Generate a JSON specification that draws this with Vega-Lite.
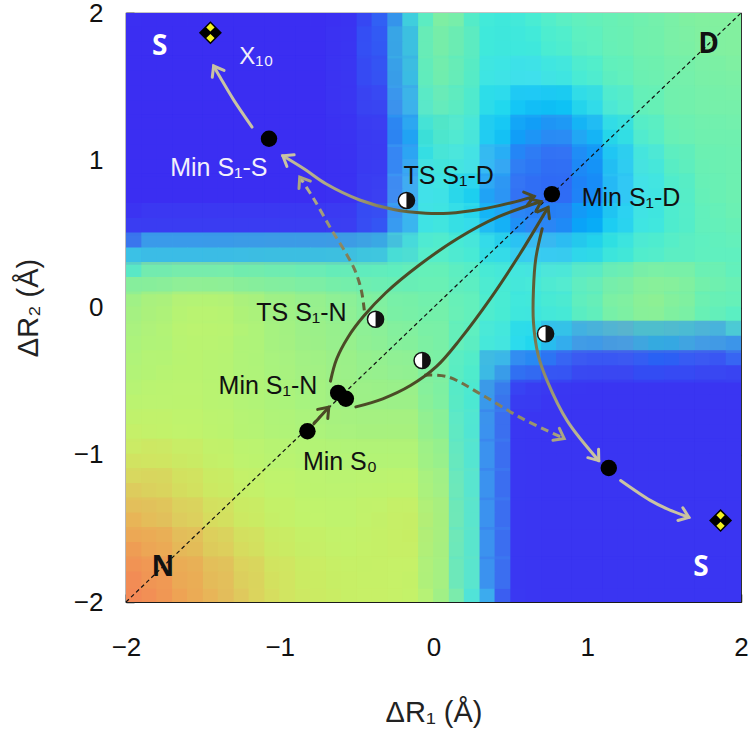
{
"$schema": "https://vega.github.io/schema/vega-lite/v6.json",
"width": 615,
"height": 589,
"autosize": "none",
"padding": {"left": 126, "top": 13, "right": 15, "bottom": 138},
"background": "white",
"config": {"view": {"stroke": "#1a1a1a", "strokeWidth": 1.2}, "axis": {"grid": false, "domain": false}},
"datasets": {
"surface": [
{"x":-1.9,"y":1.9,"v":0},{"x":-1.7,"y":1.9,"v":0},{"x":-1.5,"y":1.9,"v":0},{"x":-1.3,"y":1.9,"v":0},{"x":-1.1,"y":1.9,"v":0},{"x":-0.9,"y":1.9,"v":0},{"x":-0.7,"y":1.9,"v":0},{"x":-0.5,"y":1.9,"v":0.02},{"x":-0.3,"y":1.9,"v":0.15},{"x":-0.1,"y":1.9,"v":0.4},{"x":0.1,"y":1.9,"v":0.58},{"x":0.3,"y":1.9,"v":0.4},{"x":0.5,"y":1.9,"v":0.38},{"x":0.7,"y":1.9,"v":0.42},{"x":0.9,"y":1.9,"v":0.46},{"x":1.1,"y":1.9,"v":0.48},{"x":1.3,"y":1.9,"v":0.5},{"x":1.5,"y":1.9,"v":0.52},{"x":1.7,"y":1.9,"v":0.55},{"x":1.9,"y":1.9,"v":0.55},
{"x":-1.9,"y":1.7,"v":0},{"x":-1.7,"y":1.7,"v":0},{"x":-1.5,"y":1.7,"v":0},{"x":-1.3,"y":1.7,"v":0},{"x":-1.1,"y":1.7,"v":0},{"x":-0.9,"y":1.7,"v":0},{"x":-0.7,"y":1.7,"v":0},{"x":-0.5,"y":1.7,"v":0.03},{"x":-0.3,"y":1.7,"v":0.14},{"x":-0.1,"y":1.7,"v":0.4},{"x":0.1,"y":1.7,"v":0.58},{"x":0.3,"y":1.7,"v":0.4},{"x":0.5,"y":1.7,"v":0.36},{"x":0.7,"y":1.7,"v":0.38},{"x":0.9,"y":1.7,"v":0.43},{"x":1.1,"y":1.7,"v":0.47},{"x":1.3,"y":1.7,"v":0.5},{"x":1.5,"y":1.7,"v":0.52},{"x":1.7,"y":1.7,"v":0.54},{"x":1.9,"y":1.7,"v":0.55},
{"x":-1.9,"y":1.5,"v":0},{"x":-1.7,"y":1.5,"v":0},{"x":-1.5,"y":1.5,"v":0},{"x":-1.3,"y":1.5,"v":0},{"x":-1.1,"y":1.5,"v":0},{"x":-0.9,"y":1.5,"v":0},{"x":-0.7,"y":1.5,"v":0},{"x":-0.5,"y":1.5,"v":0.03},{"x":-0.3,"y":1.5,"v":0.12},{"x":-0.1,"y":1.5,"v":0.38},{"x":0.1,"y":1.5,"v":0.56},{"x":0.3,"y":1.5,"v":0.38},{"x":0.5,"y":1.5,"v":0.32},{"x":0.7,"y":1.5,"v":0.31},{"x":0.9,"y":1.5,"v":0.36},{"x":1.1,"y":1.5,"v":0.43},{"x":1.3,"y":1.5,"v":0.48},{"x":1.5,"y":1.5,"v":0.5},{"x":1.7,"y":1.5,"v":0.52},{"x":1.9,"y":1.5,"v":0.53},
{"x":-1.9,"y":1.3,"v":0},{"x":-1.7,"y":1.3,"v":0},{"x":-1.5,"y":1.3,"v":0},{"x":-1.3,"y":1.3,"v":0},{"x":-1.1,"y":1.3,"v":0},{"x":-0.9,"y":1.3,"v":0},{"x":-0.7,"y":1.3,"v":0},{"x":-0.5,"y":1.3,"v":0.03},{"x":-0.3,"y":1.3,"v":0.08},{"x":-0.1,"y":1.3,"v":0.33},{"x":0.1,"y":1.3,"v":0.52},{"x":0.3,"y":1.3,"v":0.36},{"x":0.5,"y":1.3,"v":0.28},{"x":0.7,"y":1.3,"v":0.24},{"x":0.9,"y":1.3,"v":0.26},{"x":1.1,"y":1.3,"v":0.33},{"x":1.3,"y":1.3,"v":0.44},{"x":1.5,"y":1.3,"v":0.5},{"x":1.7,"y":1.3,"v":0.52},{"x":1.9,"y":1.3,"v":0.52},
{"x":-1.9,"y":1.1,"v":0},{"x":-1.7,"y":1.1,"v":0},{"x":-1.5,"y":1.1,"v":0},{"x":-1.3,"y":1.1,"v":0},{"x":-1.1,"y":1.1,"v":0},{"x":-0.9,"y":1.1,"v":0},{"x":-0.7,"y":1.1,"v":0},{"x":-0.5,"y":1.1,"v":0.02},{"x":-0.3,"y":1.1,"v":0.05},{"x":-0.1,"y":1.1,"v":0.28},{"x":0.1,"y":1.1,"v":0.46},{"x":0.3,"y":1.1,"v":0.33},{"x":0.5,"y":1.1,"v":0.24},{"x":0.7,"y":1.1,"v":0.18},{"x":0.9,"y":1.1,"v":0.19},{"x":1.1,"y":1.1,"v":0.26},{"x":1.3,"y":1.1,"v":0.36},{"x":1.5,"y":1.1,"v":0.46},{"x":1.7,"y":1.1,"v":0.5},{"x":1.9,"y":1.1,"v":0.5},
{"x":-1.9,"y":0.9,"v":0},{"x":-1.7,"y":0.9,"v":0},{"x":-1.5,"y":0.9,"v":0},{"x":-1.3,"y":0.9,"v":0},{"x":-1.1,"y":0.9,"v":0},{"x":-0.9,"y":0.9,"v":0},{"x":-0.7,"y":0.9,"v":0},{"x":-0.5,"y":0.9,"v":0.02},{"x":-0.3,"y":0.9,"v":0.06},{"x":-0.1,"y":0.9,"v":0.3},{"x":0.1,"y":0.9,"v":0.4},{"x":0.3,"y":0.9,"v":0.3},{"x":0.5,"y":0.9,"v":0.2},{"x":0.7,"y":0.9,"v":0.14},{"x":0.9,"y":0.9,"v":0.15},{"x":1.1,"y":0.9,"v":0.22},{"x":1.3,"y":0.9,"v":0.3},{"x":1.5,"y":0.9,"v":0.4},{"x":1.7,"y":0.9,"v":0.48},{"x":1.9,"y":0.9,"v":0.5},
{"x":-1.9,"y":0.7,"v":0},{"x":-1.7,"y":0.7,"v":0},{"x":-1.5,"y":0.7,"v":0},{"x":-1.3,"y":0.7,"v":0},{"x":-1.1,"y":0.7,"v":0},{"x":-0.9,"y":0.7,"v":0},{"x":-0.7,"y":0.7,"v":0},{"x":-0.5,"y":0.7,"v":0.02},{"x":-0.3,"y":0.7,"v":0.08},{"x":-0.1,"y":0.7,"v":0.3},{"x":0.1,"y":0.7,"v":0.36},{"x":0.3,"y":0.7,"v":0.26},{"x":0.5,"y":0.7,"v":0.18},{"x":0.7,"y":0.7,"v":0.14},{"x":0.9,"y":0.7,"v":0.16},{"x":1.1,"y":0.7,"v":0.22},{"x":1.3,"y":0.7,"v":0.3},{"x":1.5,"y":0.7,"v":0.38},{"x":1.7,"y":0.7,"v":0.46},{"x":1.9,"y":0.7,"v":0.5},
{"x":-1.9,"y":0.5,"v":0.06},{"x":-1.7,"y":0.5,"v":0.06},{"x":-1.5,"y":0.5,"v":0.06},{"x":-1.3,"y":0.5,"v":0.06},{"x":-1.1,"y":0.5,"v":0.06},{"x":-0.9,"y":0.5,"v":0.06},{"x":-0.7,"y":0.5,"v":0.06},{"x":-0.5,"y":0.5,"v":0.07},{"x":-0.3,"y":0.5,"v":0.14},{"x":-0.1,"y":0.5,"v":0.33},{"x":0.1,"y":0.5,"v":0.4},{"x":0.3,"y":0.5,"v":0.32},{"x":0.5,"y":0.5,"v":0.24},{"x":0.7,"y":0.5,"v":0.2},{"x":0.9,"y":0.5,"v":0.22},{"x":1.1,"y":0.5,"v":0.27},{"x":1.3,"y":0.5,"v":0.34},{"x":1.5,"y":0.5,"v":0.4},{"x":1.7,"y":0.5,"v":0.45},{"x":1.9,"y":0.5,"v":0.48},
{"x":-1.9,"y":0.3,"v":0.36},{"x":-1.7,"y":0.3,"v":0.36},{"x":-1.5,"y":0.3,"v":0.36},{"x":-1.3,"y":0.3,"v":0.37},{"x":-1.1,"y":0.3,"v":0.38},{"x":-0.9,"y":0.3,"v":0.38},{"x":-0.7,"y":0.3,"v":0.38},{"x":-0.5,"y":0.3,"v":0.39},{"x":-0.3,"y":0.3,"v":0.4},{"x":-0.1,"y":0.3,"v":0.45},{"x":0.1,"y":0.3,"v":0.46},{"x":0.3,"y":0.3,"v":0.4},{"x":0.5,"y":0.3,"v":0.34},{"x":0.7,"y":0.3,"v":0.3},{"x":0.9,"y":0.3,"v":0.33},{"x":1.1,"y":0.3,"v":0.38},{"x":1.3,"y":0.3,"v":0.43},{"x":1.5,"y":0.3,"v":0.46},{"x":1.7,"y":0.3,"v":0.46},{"x":1.9,"y":0.3,"v":0.46},
{"x":-1.9,"y":0.1,"v":0.62},{"x":-1.7,"y":0.1,"v":0.66},{"x":-1.5,"y":0.1,"v":0.68},{"x":-1.3,"y":0.1,"v":0.66},{"x":-1.1,"y":0.1,"v":0.62},{"x":-0.9,"y":0.1,"v":0.6},{"x":-0.7,"y":0.1,"v":0.58},{"x":-0.5,"y":0.1,"v":0.55},{"x":-0.3,"y":0.1,"v":0.52},{"x":-0.1,"y":0.1,"v":0.5},{"x":0.1,"y":0.1,"v":0.5},{"x":0.3,"y":0.1,"v":0.45},{"x":0.5,"y":0.1,"v":0.4},{"x":0.7,"y":0.1,"v":0.42},{"x":0.9,"y":0.1,"v":0.46},{"x":1.1,"y":0.1,"v":0.54},{"x":1.3,"y":0.1,"v":0.58},{"x":1.5,"y":0.1,"v":0.62},{"x":1.7,"y":0.1,"v":0.56},{"x":1.9,"y":0.1,"v":0.5},
{"x":-1.9,"y":-0.1,"v":0.66},{"x":-1.7,"y":-0.1,"v":0.71},{"x":-1.5,"y":-0.1,"v":0.74},{"x":-1.3,"y":-0.1,"v":0.72},{"x":-1.1,"y":-0.1,"v":0.67},{"x":-0.9,"y":-0.1,"v":0.63},{"x":-0.7,"y":-0.1,"v":0.6},{"x":-0.5,"y":-0.1,"v":0.58},{"x":-0.3,"y":-0.1,"v":0.55},{"x":-0.1,"y":-0.1,"v":0.53},{"x":0.1,"y":-0.1,"v":0.52},{"x":0.3,"y":-0.1,"v":0.45},{"x":0.5,"y":-0.1,"v":0.38},{"x":0.7,"y":-0.1,"v":0.35},{"x":0.9,"y":-0.1,"v":0.4},{"x":1.1,"y":-0.1,"v":0.48},{"x":1.3,"y":-0.1,"v":0.55},{"x":1.5,"y":-0.1,"v":0.56},{"x":1.7,"y":-0.1,"v":0.5},{"x":1.9,"y":-0.1,"v":0.44},
{"x":-1.9,"y":-0.3,"v":0.68},{"x":-1.7,"y":-0.3,"v":0.7},{"x":-1.5,"y":-0.3,"v":0.72},{"x":-1.3,"y":-0.3,"v":0.7},{"x":-1.1,"y":-0.3,"v":0.67},{"x":-0.9,"y":-0.3,"v":0.64},{"x":-0.7,"y":-0.3,"v":0.62},{"x":-0.5,"y":-0.3,"v":0.6},{"x":-0.3,"y":-0.3,"v":0.57},{"x":-0.1,"y":-0.3,"v":0.56},{"x":0.1,"y":-0.3,"v":0.52},{"x":0.3,"y":-0.3,"v":0.42},{"x":0.5,"y":-0.3,"v":0.33},{"x":0.7,"y":-0.3,"v":0.28},{"x":0.9,"y":-0.3,"v":0.2},{"x":1.1,"y":-0.3,"v":0.18},{"x":1.3,"y":-0.3,"v":0.2},{"x":1.5,"y":-0.3,"v":0.22},{"x":1.7,"y":-0.3,"v":0.2},{"x":1.9,"y":-0.3,"v":0.18},
{"x":-1.9,"y":-0.5,"v":0.7},{"x":-1.7,"y":-0.5,"v":0.72},{"x":-1.5,"y":-0.5,"v":0.72},{"x":-1.3,"y":-0.5,"v":0.7},{"x":-1.1,"y":-0.5,"v":0.68},{"x":-0.9,"y":-0.5,"v":0.66},{"x":-0.7,"y":-0.5,"v":0.64},{"x":-0.5,"y":-0.5,"v":0.62},{"x":-0.3,"y":-0.5,"v":0.6},{"x":-0.1,"y":-0.5,"v":0.59},{"x":0.1,"y":-0.5,"v":0.5},{"x":0.3,"y":-0.5,"v":0.38},{"x":0.5,"y":-0.5,"v":0.12},{"x":0.7,"y":-0.5,"v":0.06},{"x":0.9,"y":-0.5,"v":0.03},{"x":1.1,"y":-0.5,"v":0.02},{"x":1.3,"y":-0.5,"v":0.02},{"x":1.5,"y":-0.5,"v":0.02},{"x":1.7,"y":-0.5,"v":0.02},{"x":1.9,"y":-0.5,"v":0.02},
{"x":-1.9,"y":-0.7,"v":0.73},{"x":-1.7,"y":-0.7,"v":0.73},{"x":-1.5,"y":-0.7,"v":0.73},{"x":-1.3,"y":-0.7,"v":0.71},{"x":-1.1,"y":-0.7,"v":0.69},{"x":-0.9,"y":-0.7,"v":0.67},{"x":-0.7,"y":-0.7,"v":0.65},{"x":-0.5,"y":-0.7,"v":0.63},{"x":-0.3,"y":-0.7,"v":0.63},{"x":-0.1,"y":-0.7,"v":0.63},{"x":0.1,"y":-0.7,"v":0.52},{"x":0.3,"y":-0.7,"v":0.35},{"x":0.5,"y":-0.7,"v":0.03},{"x":0.7,"y":-0.7,"v":0.02},{"x":0.9,"y":-0.7,"v":0.02},{"x":1.1,"y":-0.7,"v":0.02},{"x":1.3,"y":-0.7,"v":0.02},{"x":1.5,"y":-0.7,"v":0.02},{"x":1.7,"y":-0.7,"v":0.02},{"x":1.9,"y":-0.7,"v":0.02},
{"x":-1.9,"y":-0.9,"v":0.76},{"x":-1.7,"y":-0.9,"v":0.75},{"x":-1.5,"y":-0.9,"v":0.74},{"x":-1.3,"y":-0.9,"v":0.72},{"x":-1.1,"y":-0.9,"v":0.7},{"x":-0.9,"y":-0.9,"v":0.69},{"x":-0.7,"y":-0.9,"v":0.68},{"x":-0.5,"y":-0.9,"v":0.67},{"x":-0.3,"y":-0.9,"v":0.67},{"x":-0.1,"y":-0.9,"v":0.67},{"x":0.1,"y":-0.9,"v":0.55},{"x":0.3,"y":-0.9,"v":0.33},{"x":0.5,"y":-0.9,"v":0.03},{"x":0.7,"y":-0.9,"v":0.02},{"x":0.9,"y":-0.9,"v":0.02},{"x":1.1,"y":-0.9,"v":0.02},{"x":1.3,"y":-0.9,"v":0.02},{"x":1.5,"y":-0.9,"v":0.02},{"x":1.7,"y":-0.9,"v":0.02},{"x":1.9,"y":-0.9,"v":0.02},
{"x":-1.9,"y":-1.1,"v":0.8},{"x":-1.7,"y":-1.1,"v":0.79},{"x":-1.5,"y":-1.1,"v":0.77},{"x":-1.3,"y":-1.1,"v":0.75},{"x":-1.1,"y":-1.1,"v":0.73},{"x":-0.9,"y":-1.1,"v":0.72},{"x":-0.7,"y":-1.1,"v":0.71},{"x":-0.5,"y":-1.1,"v":0.71},{"x":-0.3,"y":-1.1,"v":0.71},{"x":-0.1,"y":-1.1,"v":0.71},{"x":0.1,"y":-1.1,"v":0.58},{"x":0.3,"y":-1.1,"v":0.33},{"x":0.5,"y":-1.1,"v":0.03},{"x":0.7,"y":-1.1,"v":0.02},{"x":0.9,"y":-1.1,"v":0.02},{"x":1.1,"y":-1.1,"v":0.02},{"x":1.3,"y":-1.1,"v":0.02},{"x":1.5,"y":-1.1,"v":0.02},{"x":1.7,"y":-1.1,"v":0.02},{"x":1.9,"y":-1.1,"v":0.02},
{"x":-1.9,"y":-1.3,"v":0.87},{"x":-1.7,"y":-1.3,"v":0.83},{"x":-1.5,"y":-1.3,"v":0.79},{"x":-1.3,"y":-1.3,"v":0.77},{"x":-1.1,"y":-1.3,"v":0.75},{"x":-0.9,"y":-1.3,"v":0.74},{"x":-0.7,"y":-1.3,"v":0.73},{"x":-0.5,"y":-1.3,"v":0.73},{"x":-0.3,"y":-1.3,"v":0.74},{"x":-0.1,"y":-1.3,"v":0.74},{"x":0.1,"y":-1.3,"v":0.6},{"x":0.3,"y":-1.3,"v":0.33},{"x":0.5,"y":-1.3,"v":0.03},{"x":0.7,"y":-1.3,"v":0.02},{"x":0.9,"y":-1.3,"v":0.02},{"x":1.1,"y":-1.3,"v":0.02},{"x":1.3,"y":-1.3,"v":0.02},{"x":1.5,"y":-1.3,"v":0.02},{"x":1.7,"y":-1.3,"v":0.02},{"x":1.9,"y":-1.3,"v":0.02},
{"x":-1.9,"y":-1.5,"v":0.92},{"x":-1.7,"y":-1.5,"v":0.88},{"x":-1.5,"y":-1.5,"v":0.84},{"x":-1.3,"y":-1.5,"v":0.79},{"x":-1.1,"y":-1.5,"v":0.77},{"x":-0.9,"y":-1.5,"v":0.75},{"x":-0.7,"y":-1.5,"v":0.74},{"x":-0.5,"y":-1.5,"v":0.74},{"x":-0.3,"y":-1.5,"v":0.76},{"x":-0.1,"y":-1.5,"v":0.77},{"x":0.1,"y":-1.5,"v":0.62},{"x":0.3,"y":-1.5,"v":0.33},{"x":0.5,"y":-1.5,"v":0.03},{"x":0.7,"y":-1.5,"v":0.02},{"x":0.9,"y":-1.5,"v":0.02},{"x":1.1,"y":-1.5,"v":0.02},{"x":1.3,"y":-1.5,"v":0.02},{"x":1.5,"y":-1.5,"v":0.02},{"x":1.7,"y":-1.5,"v":0.02},{"x":1.9,"y":-1.5,"v":0.02},
{"x":-1.9,"y":-1.7,"v":0.97},{"x":-1.7,"y":-1.7,"v":0.93},{"x":-1.5,"y":-1.7,"v":0.89},{"x":-1.3,"y":-1.7,"v":0.84},{"x":-1.1,"y":-1.7,"v":0.79},{"x":-0.9,"y":-1.7,"v":0.77},{"x":-0.7,"y":-1.7,"v":0.76},{"x":-0.5,"y":-1.7,"v":0.75},{"x":-0.3,"y":-1.7,"v":0.76},{"x":-0.1,"y":-1.7,"v":0.76},{"x":0.1,"y":-1.7,"v":0.6},{"x":0.3,"y":-1.7,"v":0.33},{"x":0.5,"y":-1.7,"v":0.03},{"x":0.7,"y":-1.7,"v":0.02},{"x":0.9,"y":-1.7,"v":0.02},{"x":1.1,"y":-1.7,"v":0.02},{"x":1.3,"y":-1.7,"v":0.02},{"x":1.5,"y":-1.7,"v":0.02},{"x":1.7,"y":-1.7,"v":0.02},{"x":1.9,"y":-1.7,"v":0.02},
{"x":-1.9,"y":-1.9,"v":1},{"x":-1.7,"y":-1.9,"v":0.96},{"x":-1.5,"y":-1.9,"v":0.92},{"x":-1.3,"y":-1.9,"v":0.88},{"x":-1.1,"y":-1.9,"v":0.82},{"x":-0.9,"y":-1.9,"v":0.78},{"x":-0.7,"y":-1.9,"v":0.77},{"x":-0.5,"y":-1.9,"v":0.76},{"x":-0.3,"y":-1.9,"v":0.76},{"x":-0.1,"y":-1.9,"v":0.75},{"x":0.1,"y":-1.9,"v":0.6},{"x":0.3,"y":-1.9,"v":0.33},{"x":0.5,"y":-1.9,"v":0.03},{"x":0.7,"y":-1.9,"v":0.02},{"x":0.9,"y":-1.9,"v":0.02},{"x":1.1,"y":-1.9,"v":0.02},{"x":1.3,"y":-1.9,"v":0.02},{"x":1.5,"y":-1.9,"v":0.02},{"x":1.7,"y":-1.9,"v":0.02},{"x":1.9,"y":-1.9,"v":0.02}
],
"diagonal": [{"x":-2,"y":-2},{"x":2,"y":2}],
"paths": [
{"id":"c1","i":0,"x":-1.18,"y":1.225},{"id":"c1","i":1,"x":-1.3,"y":1.41},{"id":"c1","i":2,"x":-1.386,"y":1.56},{"id":"c1","i":3,"x":-1.43,"y":1.64},
{"id":"c2","i":0,"x":-0.98,"y":1.03},{"id":"c2","i":1,"x":-0.84,"y":0.94},{"id":"c2","i":2,"x":-0.7,"y":0.84},{"id":"c2","i":3,"x":-0.48,"y":0.73},{"id":"c2","i":4,"x":-0.26,"y":0.665},{"id":"c2","i":5,"x":-0.05,"y":0.64},{"id":"c2","i":6,"x":0.1,"y":0.64},{"id":"c2","i":7,"x":0.3,"y":0.665},{"id":"c2","i":8,"x":0.5,"y":0.71},{"id":"c2","i":9,"x":0.655,"y":0.755},
{"id":"c3","i":0,"x":-0.45,"y":-0.02},{"id":"c3","i":1,"x":-0.47,"y":0.12},{"id":"c3","i":2,"x":-0.51,"y":0.25},{"id":"c3","i":3,"x":-0.57,"y":0.37},{"id":"c3","i":4,"x":-0.67,"y":0.54},{"id":"c3","i":5,"x":-0.78,"y":0.74},{"id":"c3","i":6,"x":-0.87,"y":0.885},
{"id":"c4","i":0,"x":-0.67,"y":-0.5},{"id":"c4","i":1,"x":-0.63,"y":-0.35},{"id":"c4","i":2,"x":-0.555,"y":-0.2},{"id":"c4","i":3,"x":-0.455,"y":-0.06},{"id":"c4","i":4,"x":-0.31,"y":0.1},{"id":"c4","i":5,"x":-0.09,"y":0.29},{"id":"c4","i":6,"x":0.16,"y":0.47},{"id":"c4","i":7,"x":0.42,"y":0.615},{"id":"c4","i":8,"x":0.7,"y":0.72},
{"id":"c5","i":0,"x":-0.505,"y":-0.675},{"id":"c5","i":1,"x":-0.33,"y":-0.62},{"id":"c5","i":2,"x":-0.15,"y":-0.53},{"id":"c5","i":3,"x":0.02,"y":-0.4},{"id":"c5","i":4,"x":0.17,"y":-0.22},{"id":"c5","i":5,"x":0.37,"y":0.06},{"id":"c5","i":6,"x":0.56,"y":0.36},{"id":"c5","i":7,"x":0.745,"y":0.68},
{"id":"c6","i":0,"x":-0.06,"y":-0.46},{"id":"c6","i":1,"x":0.09,"y":-0.47},{"id":"c6","i":2,"x":0.31,"y":-0.59},{"id":"c6","i":3,"x":0.57,"y":-0.75},{"id":"c6","i":4,"x":0.85,"y":-0.89},
{"id":"c7","i":0,"x":0.707,"y":0.535},{"id":"c7","i":1,"x":0.665,"y":0.33},{"id":"c7","i":2,"x":0.65,"y":0.12},{"id":"c7","i":3,"x":0.65,"y":-0.1},{"id":"c7","i":4,"x":0.68,"y":-0.32},{"id":"c7","i":5,"x":0.74,"y":-0.5},{"id":"c7","i":6,"x":0.87,"y":-0.77},{"id":"c7","i":7,"x":1.075,"y":-1.04},
{"id":"c8","i":0,"x":1.217,"y":-1.175},{"id":"c8","i":1,"x":1.41,"y":-1.31},{"id":"c8","i":2,"x":1.52,"y":-1.368},{"id":"c8","i":3,"x":1.661,"y":-1.425},
{"id":"c9","i":0,"x":-0.778,"y":-0.79},{"id":"c9","i":1,"x":-0.681,"y":-0.677}
],
"heads": [
{"x":-1.43,"y":1.64,"angle":-120,"kind":"tan"},
{"x":-0.98,"y":1.03,"angle":-148,"kind":"tan"},
{"x":0.655,"y":0.755,"angle":-15,"kind":"dark"},
{"x":-0.87,"y":0.885,"angle":-123,"kind":"mid"},
{"x":0.7,"y":0.72,"angle":-25,"kind":"dark"},
{"x":0.745,"y":0.68,"angle":-60,"kind":"dark"},
{"x":0.85,"y":-0.89,"angle":28,"kind":"mid"},
{"x":1.075,"y":-1.04,"angle":52,"kind":"tan"},
{"x":1.661,"y":-1.425,"angle":21,"kind":"tan"},
{"x":-0.681,"y":-0.677,"angle":-48,"kind":"dark"}
],
"minima": [
{"x":-1.07,"y":1.146},{"x":0.77,"y":0.77},{"x":-0.82,"y":-0.84},{"x":-0.62,"y":-0.58},{"x":-0.57,"y":-0.62},{"x":1.14,"y":-1.09}
],
"saddles": [
{"x":-0.176,"y":0.727},{"x":-0.377,"y":-0.08},{"x":-0.074,"y":-0.36},{"x":0.729,"y":-0.178}
],
"crossings": [
{"x":-1.451,"y":1.866},{"x":1.867,"y":-1.447}
],
"labels": [
{"text":"Min S₁-S","x":-1.396,"y":0.944,"tone":"light"},
{"text":"TS S₁-D","x":0.098,"y":0.89,"tone":"dark"},
{"text":"Min S₁-D","x":1.285,"y":0.747,"tone":"dark"},
{"text":"TS S₁-N","x":-0.859,"y":-0.034,"tone":"dark"},
{"text":"Min S₁-N","x":-1.077,"y":-0.53,"tone":"dark"},
{"text":"Min S₀","x":-0.608,"y":-1.05,"tone":"dark"}
],
"tags": [
{"text":"X₁₀","x":-1.152,"y":1.7}
],
"regions": [
{"text":"S","x":-1.78,"y":1.77,"tone":"light"},
{"text":"D","x":1.79,"y":1.78,"tone":"dark"},
{"text":"N","x":-1.76,"y":-1.77,"tone":"dark"},
{"text":"S","x":1.74,"y":-1.77,"tone":"light"}
]
},
"encoding": {
"x": {"field":"x","type":"quantitative","scale":{"domain":[-2,2],"nice":false,"zero":false},"axis":null},
"y": {"field":"y","type":"quantitative","scale":{"domain":[-2,2],"nice":false,"zero":false},"axis":null}
},
"resolve": {"axis": {"x":"independent","y":"independent"}},
"layer": [
{
"data": {"name":"surface"},
"mark": {"type":"point","shape":"M-1,-1H1V1H-1Z","filled":true,"size":1000,"opacity":1,"strokeWidth":0,"clip":true},
"encoding": {
"x": {"field":"x","type":"quantitative","scale":{"domain":[-2,2],"nice":false,"zero":false},"axis":{"orient":"bottom","values":[-2,-1,0,1,2],"title":"ΔR₁ (Å)","labelFont":"Liberation Sans","labelFontSize":26,"labelColor":"#111","labelPadding":40,"labelFlush":false,"labelOverlap":false,"tickSize":-8,"tickWidth":1.5,"tickColor":"#222","titleFont":"Liberation Sans","titleFontSize":29,"titleFontWeight":"normal","titleColor":"#222","titlePadding":38}},
"y": {"field":"y","type":"quantitative","scale":{"domain":[-2,2],"nice":false,"zero":false},"axis":{"orient":"left","values":[-2,-1,0,1,2],"title":"ΔR₂ (Å)","labelFont":"Liberation Sans","labelFontSize":26,"labelColor":"#111","labelPadding":31,"labelFlush":false,"labelOverlap":false,"tickSize":-8,"tickWidth":1.5,"tickColor":"#222","titleFont":"Liberation Sans","titleFontSize":29,"titleFontWeight":"normal","titleColor":"#222","titlePadding":30}},
"color": {"field":"v","type":"quantitative","scale":{"domain":[0,0.1,0.2,0.3,0.45,0.6,0.75,0.88,1],"range":["#3b30f2","#3c4cf2","#3f86f2","#45dcf2","#5cf0c4","#98f08e","#c4f46a","#e2c25e","#f48a56"]},"legend":null}
}
},
{
"data": {"name":"surface"},
"mark": {"type":"point","shape":"M-1,-1H1V1H-1Z","filled":true,"size":3800,"opacity":0.32,"strokeWidth":0,"clip":true},
"encoding": {
"color": {"field":"v","type":"quantitative","scale":{"domain":[0,0.1,0.2,0.3,0.45,0.6,0.75,0.88,1],"range":["#3b30f2","#3c4cf2","#3f86f2","#45dcf2","#5cf0c4","#98f08e","#c4f46a","#e2c25e","#f48a56"]},"legend":null}
}
},
{
"data": {"name":"diagonal"},
"mark": {"type":"line","color":"#111","strokeWidth":1.2,"strokeDash":[4,3]},
"encoding": {
"x": {"field":"x","type":"quantitative","scale":{"domain":[-2,2],"nice":false,"zero":false},"axis":{"orient":"top","values":[-1,0,1],"labels":false,"title":null,"tickSize":-8,"tickWidth":1.5,"tickColor":"#222"}},
"y": {"field":"y","type":"quantitative","scale":{"domain":[-2,2],"nice":false,"zero":false},"axis":{"orient":"right","values":[-1,0,1],"labels":false,"title":null,"tickSize":-8,"tickWidth":1.5,"tickColor":"#222"}}
}
},
{
"data": {"name":"paths"},
"transform": [{"filter":"datum.id === 'c1' || datum.id === 'c8'"}],
"mark": {"type":"line","interpolate":"catmull-rom","color":"#c9c3a3","strokeWidth":3,"strokeCap":"round"},
"encoding": {"detail":{"field":"id"},"order":{"field":"i","type":"quantitative"}}
},
{
"data": {"name":"paths"},
"transform": [{"filter":"datum.id === 'c2'"}],
"mark": {"type":"line","interpolate":"catmull-rom","strokeWidth":3,"strokeCap":"round","color":{"gradient":"linear","x1":0,"y1":0,"x2":1,"y2":0,"stops":[{"offset":0,"color":"#c4be9c"},{"offset":0.3,"color":"#a09b72"},{"offset":0.55,"color":"#55532c"},{"offset":1,"color":"#4b4a26"}]}},
"encoding": {"order":{"field":"i","type":"quantitative"}}
},
{
"data": {"name":"paths"},
"transform": [{"filter":"datum.id === 'c3'"}],
"mark": {"type":"line","interpolate":"catmull-rom","strokeWidth":3,"strokeDash":[8,5],"color":{"gradient":"linear","x1":0,"y1":1,"x2":0,"y2":0,"stops":[{"offset":0,"color":"#5c5a30"},{"offset":1,"color":"#bdb796"}]}},
"encoding": {"order":{"field":"i","type":"quantitative"}}
},
{
"data": {"name":"paths"},
"transform": [{"filter":"datum.id === 'c6'"}],
"mark": {"type":"line","interpolate":"catmull-rom","strokeWidth":3,"strokeDash":[8,5],"color":{"gradient":"linear","x1":0,"y1":0,"x2":1,"y2":0,"stops":[{"offset":0,"color":"#5c5a30"},{"offset":1,"color":"#aca680"}]}},
"encoding": {"order":{"field":"i","type":"quantitative"}}
},
{
"data": {"name":"paths"},
"transform": [{"filter":"datum.id === 'c7'"}],
"mark": {"type":"line","interpolate":"catmull-rom","strokeWidth":3,"strokeCap":"round","color":{"gradient":"linear","x1":0,"y1":0,"x2":0,"y2":1,"stops":[{"offset":0,"color":"#4b4a26"},{"offset":0.4,"color":"#6e6b40"},{"offset":1,"color":"#cbc6a4"}]}},
"encoding": {"order":{"field":"i","type":"quantitative"}}
},
{
"data": {"name":"paths"},
"transform": [{"filter":"datum.id === 'c4' || datum.id === 'c5' || datum.id === 'c9'"}],
"mark": {"type":"line","interpolate":"catmull-rom","color":"#4b4a26","strokeWidth":3,"strokeCap":"round"},
"encoding": {"detail":{"field":"id"},"order":{"field":"i","type":"quantitative"}}
},
{
"data": {"name":"heads"},
"mark": {"type":"point","shape":"M-1,-0.75L0,0L-1,0.75","filled":false,"size":330,"strokeWidth":3,"opacity":1,"strokeJoin":"miter","strokeCap":"round"},
"encoding": {
"angle": {"field":"angle","type":"quantitative","scale":null},
"color": {"field":"kind","type":"nominal","scale":{"domain":["dark","tan","mid"],"range":["#4b4a26","#c9c3a3","#aca680"]},"legend":null}
}
},
{
"data": {"name":"minima"},
"mark": {"type":"point","shape":"circle","filled":true,"size":270,"color":"#000000","opacity":1}
},
{
"data": {"name":"saddles"},
"mark": {"type":"point","shape":"circle","filled":true,"size":260,"fill":"#ffffff","stroke":"#111111","strokeWidth":1.5,"opacity":1}
},
{
"data": {"name":"saddles"},
"mark": {"type":"point","shape":"M0,-1A1,1 0 0 1 0,1Z","filled":true,"size":260,"color":"#111111","opacity":1}
},
{
"data": {"name":"crossings"},
"mark": {"type":"point","shape":"diamond","filled":true,"size":529,"color":"#000000","opacity":1}
},
{
"data": {"name":"crossings"},
"mark": {"type":"point","shape":"M0,-0.82L0.36,-0.46L0,-0.1L-0.36,-0.46Z M0,0.1L0.36,0.46L0,0.82L-0.36,0.46Z","filled":true,"size":529,"color":"#f2f21e","opacity":1}
},
{
"data": {"name":"labels"},
"mark": {"type":"text","font":"Liberation Sans","fontSize":25,"align":"center","baseline":"middle"},
"encoding": {
"text": {"field":"text"},
"color": {"field":"tone","type":"nominal","scale":{"domain":["dark","light"],"range":["#111111","#f2f0fb"]},"legend":null}
}
},
{
"data": {"name":"tags"},
"mark": {"type":"text","font":"Liberation Sans","fontSize":24,"align":"center","baseline":"middle","color":"#f2f0fb"},
"encoding": {"text": {"field":"text"}}
},
{
"data": {"name":"regions"},
"mark": {"type":"text","font":"Open Sans","fontSize":28,"fontWeight":"bold","align":"center","baseline":"middle"},
"encoding": {
"text": {"field":"text"},
"color": {"field":"tone","type":"nominal","scale":{"domain":["dark","light"],"range":["#111111","#ffffff"]},"legend":null}
}
}
]
}
